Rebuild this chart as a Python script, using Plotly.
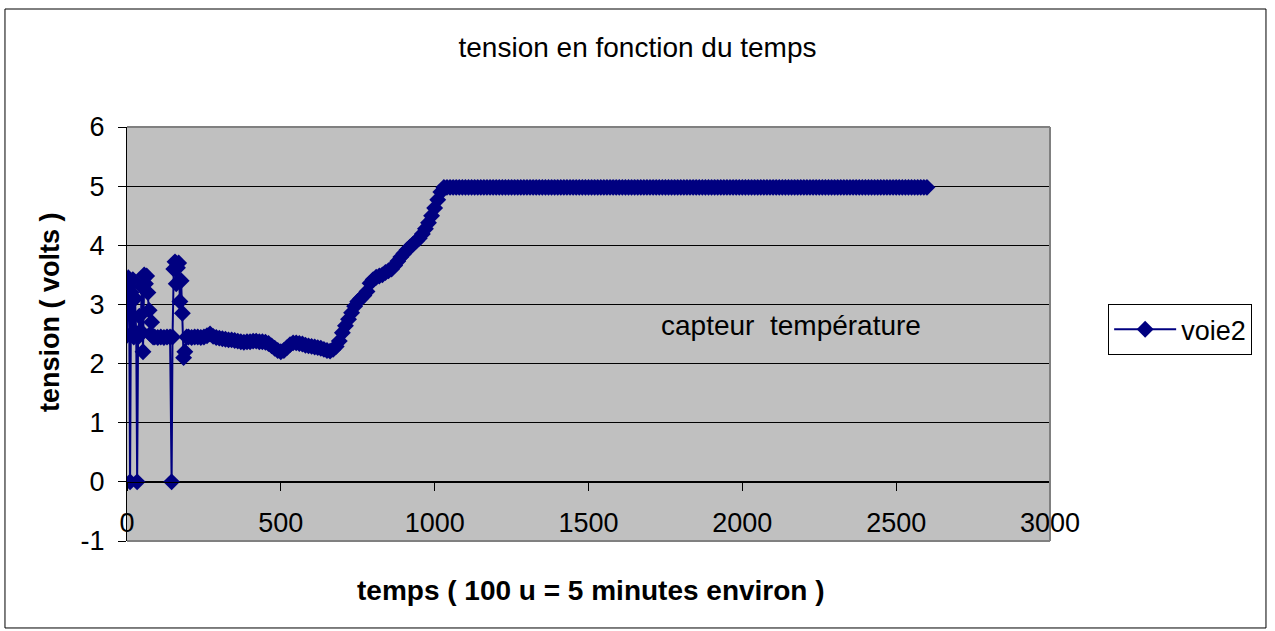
import plotly.graph_objects as go

# voie2 : temps (u) / tension (V)
temps = [
    0, 4, 7, 10, 13, 16, 19, 22, 26, 30, 33, 36, 40, 44, 48, 52, 56, 60, 64, 68,
    72, 76, 80, 85, 90, 100, 110, 120, 130, 140, 145, 148, 152, 156, 160, 164,
    168, 172, 176, 180, 184, 188, 194,
    200, 210, 220, 230, 240, 250, 260, 270, 280, 290, 300, 310, 320, 330, 340,
    350, 360, 370, 380, 390, 400, 410, 420, 430, 440, 450, 460, 470, 480, 490,
    500, 510, 520, 530, 540, 550, 560, 570, 580, 590, 600, 610, 620, 630, 640,
    650, 660, 670, 680, 690, 700, 710, 720, 730, 740, 750, 760, 770, 780, 790,
    800, 810, 820, 830, 840, 850, 860, 870, 880, 890, 900, 910, 920, 930, 940,
    950, 960, 970, 980, 990, 1000, 1010, 1020, 1030,
    1040, 1050, 1060, 1070, 1080, 1090, 1100, 1110, 1120, 1130, 1140, 1150, 1160,
    1170, 1180, 1190, 1200, 1210, 1220, 1230, 1240, 1250, 1260, 1270, 1280, 1290,
    1300, 1310, 1320, 1330, 1340, 1350, 1360, 1370, 1380, 1390, 1400, 1410, 1420,
    1430, 1440, 1450, 1460, 1470, 1480, 1490, 1500, 1510, 1520, 1530, 1540, 1550,
    1560, 1570, 1580, 1590, 1600, 1610, 1620, 1630, 1640, 1650, 1660, 1670, 1680,
    1690, 1700, 1710, 1720, 1730, 1740, 1750, 1760, 1770, 1780, 1790, 1800, 1810,
    1820, 1830, 1840, 1850, 1860, 1870, 1880, 1890, 1900, 1910, 1920, 1930, 1940,
    1950, 1960, 1970, 1980, 1990, 2000, 2010, 2020, 2030, 2040, 2050, 2060, 2070,
    2080, 2090, 2100, 2110, 2120, 2130, 2140, 2150, 2160, 2170, 2180, 2190, 2200,
    2210, 2220, 2230, 2240, 2250, 2260, 2270, 2280, 2290, 2300, 2310, 2320, 2330,
    2340, 2350, 2360, 2370, 2380, 2390, 2400, 2410, 2420, 2430, 2440, 2450, 2460,
    2470, 2480, 2490, 2500, 2510, 2520, 2530, 2540, 2550, 2560, 2570, 2580, 2590,
    2600,
]
voie2 = [
    2.48, 3.45, 3.30, 0.00, 3.20, 2.50, 3.42, 2.45, 3.10, 2.50, 0.00, 2.45, 2.80,
    2.55, 3.30, 2.20, 3.50, 3.35, 3.48, 3.20, 2.90, 2.50, 2.70, 2.45, 2.45, 2.44,
    2.45, 2.44, 2.45, 2.45, 0.00, 2.45, 3.60, 3.72, 3.35, 3.62, 3.70, 3.05, 3.40,
    2.85, 2.10, 2.20, 2.45,
    2.45, 2.44, 2.45, 2.45, 2.44, 2.45, 2.47, 2.50, 2.46, 2.44, 2.43, 2.42, 2.41,
    2.40, 2.40, 2.39, 2.38, 2.37, 2.36, 2.37, 2.37, 2.38, 2.38, 2.37, 2.37, 2.36,
    2.34, 2.30, 2.26, 2.22, 2.20, 2.22, 2.27, 2.32, 2.35, 2.35, 2.34, 2.33, 2.31,
    2.30, 2.29, 2.28, 2.27, 2.26, 2.24, 2.22, 2.21, 2.24, 2.29, 2.38, 2.52, 2.64,
    2.75, 2.86, 2.97, 3.05, 3.10, 3.15, 3.22, 3.36, 3.42, 3.46, 3.48, 3.50, 3.54,
    3.57, 3.60, 3.66, 3.73, 3.80, 3.86, 3.92, 3.97, 4.02, 4.07, 4.12, 4.19, 4.28,
    4.38, 4.50, 4.63, 4.77, 4.90, 4.98,
    4.98, 4.98, 4.98, 4.98, 4.98, 4.98, 4.98, 4.98, 4.98, 4.98, 4.98, 4.98, 4.98,
    4.98, 4.98, 4.98, 4.98, 4.98, 4.98, 4.98, 4.98, 4.98, 4.98, 4.98, 4.98, 4.98,
    4.98, 4.98, 4.98, 4.98, 4.98, 4.98, 4.98, 4.98, 4.98, 4.98, 4.98, 4.98, 4.98,
    4.98, 4.98, 4.98, 4.98, 4.98, 4.98, 4.98, 4.98, 4.98, 4.98, 4.98, 4.98, 4.98,
    4.98, 4.98, 4.98, 4.98, 4.98, 4.98, 4.98, 4.98, 4.98, 4.98, 4.98, 4.98, 4.98,
    4.98, 4.98, 4.98, 4.98, 4.98, 4.98, 4.98, 4.98, 4.98, 4.98, 4.98, 4.98, 4.98,
    4.98, 4.98, 4.98, 4.98, 4.98, 4.98, 4.98, 4.98, 4.98, 4.98, 4.98, 4.98, 4.98,
    4.98, 4.98, 4.98, 4.98, 4.98, 4.98, 4.98, 4.98, 4.98, 4.98, 4.98, 4.98, 4.98,
    4.98, 4.98, 4.98, 4.98, 4.98, 4.98, 4.98, 4.98, 4.98, 4.98, 4.98, 4.98, 4.98,
    4.98, 4.98, 4.98, 4.98, 4.98, 4.98, 4.98, 4.98, 4.98, 4.98, 4.98, 4.98, 4.98,
    4.98, 4.98, 4.98, 4.98, 4.98, 4.98, 4.98, 4.98, 4.98, 4.98, 4.98, 4.98, 4.98,
    4.98, 4.98, 4.98, 4.98, 4.98, 4.98, 4.98, 4.98, 4.98, 4.98, 4.98, 4.98, 4.98,
    4.98,
]

y_ticks = [-1, 0, 1, 2, 3, 4, 5, 6]
y_ticktext = ["-1", "0", "1", "2", "3", "4", "5", "6"]

FONT = "Arial, Liberation Sans, sans-serif"
NAVY = "#000080"

fig = go.Figure()

fig.add_trace(go.Scatter(
    x=temps,
    y=voie2,
    mode="lines+markers",
    name="voie2",
    line=dict(color=NAVY, width=2),
    marker=dict(symbol="diamond", size=13, color=NAVY),
))

fig.update_layout(
    width=1275, height=631,
    margin=dict(l=127, r=225, t=127, b=90),
    paper_bgcolor="white", plot_bgcolor="#C0C0C0",
    font=dict(family=FONT, color="black", size=27),
    title=dict(
        text="tension en fonction du temps",
        x=0.5, xref="container", xanchor="center",
        y=1 - 47 / 631, yref="container", yanchor="middle",
        font=dict(size=28, family=FONT, color="black"),
    ),
    xaxis=dict(
        range=[0, 3000], dtick=500, tick0=0,
        anchor="free", position=1 / 7,
        showgrid=False, zeroline=False,
        showline=True, linecolor="black", linewidth=1,
        ticks="outside", ticklen=8, tickcolor="black",
        ticklabelstandoff=9,
        tickfont=dict(size=27, family=FONT, color="black"),
    ),
    yaxis=dict(
        range=[-1, 6], tickvals=y_ticks, ticktext=y_ticktext,
        showgrid=True, gridcolor="black", gridwidth=1,
        zeroline=False,
        showline=True, linecolor="black", linewidth=1,
        ticks="outside", ticklen=8, tickcolor="black",
        ticklabelstandoff=8,
        tickfont=dict(size=27, family=FONT, color="black"),
    ),
    legend=dict(
        x=1.063, y=0.572, xanchor="left", yanchor="top",
        bgcolor="white", bordercolor="black", borderwidth=1,
        itemwidth=62,
        font=dict(size=27, family=FONT, color="black"),
    ),
    showlegend=True,
)

# cadre gris de la zone de tracé (haut, droite, bas)
for x0, y0, x1, y1 in [(0, 1, 1, 1), (1, 0, 1, 1), (0, 0, 1, 0)]:
    fig.add_shape(type="line", xref="paper", yref="paper",
                  x0=x0, y0=y0, x1=x1, y1=y1,
                  line=dict(color="#808080", width=2), layer="above")

# cadre extérieur du graphique
fig.add_shape(type="rect", xref="paper", yref="paper",
              x0=-0.1322, y0=-0.2101, x1=1.2340, y1=1.2850,
              line=dict(color="black", width=1), layer="above")

fig.add_annotation(
    text="<b>tension ( volts )</b>", textangle=-90,
    xref="paper", yref="paper", x=-0.0834, y=0.553,
    xanchor="center", yanchor="middle", showarrow=False,
    font=dict(size=27, family=FONT, color="black"),
)
fig.add_annotation(
    text="<b>temps ( 100 u = 5 minutes environ )</b>",
    xref="paper", yref="paper", x=0.5027, y=-0.1184,
    xanchor="center", yanchor="middle", showarrow=False,
    font=dict(size=28, family=FONT, color="black"),
)
fig.add_annotation(
    text="capteur \u00a0température",
    x=2158, y=2.64, xref="x", yref="y",
    xanchor="center", yanchor="middle", showarrow=False,
    font=dict(size=28, family=FONT, color="black"),
)

fig.write_html("out.html", config={"displayModeBar": False},
               post_script="document.body.style.margin='0';")
